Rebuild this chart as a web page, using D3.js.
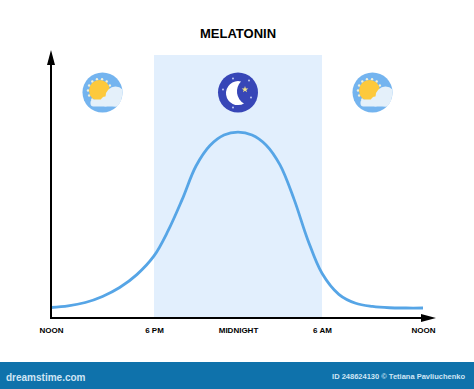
<!DOCTYPE html>
<html>
<head>
<meta charset="utf-8">
<script src="https://cdn.jsdelivr.net/npm/d3@7"></script>
<style>
html, body { margin: 0; padding: 0; background: #fff; }
text { font-family: "Liberation Sans", Arial, sans-serif; }
</style>
</head>
<body>
<div id="wrapper"></div>
<script>
const title = "MELATONIN";
const tickHours = [0, 6, 12, 18, 24];
const tickLabels = ["NOON", "6 PM", "MIDNIGHT", "6 AM", "NOON"];
// hours after noon, melatonin level (axis is 0-100)
const curveHours = [0, 1, 2, 3, 4, 5, 6, 7, 8, 9, 10, 11, 12, 13, 14, 15, 16, 17, 18, 19, 20, 21, 22, 23, 24];
const curveValues = [4, 4.6, 5.9, 8.2, 11.6, 16.5, 23.6, 33.1, 44.9, 57.8, 65.6, 69.6, 70.7, 69.6, 65.8, 58.2, 45.2, 29.5, 17, 9, 5.6, 4.4, 3.9, 3.8, 3.8];
const nightHours = [6, 18];
const skyIcons = [
    { hour: 3, type: "sun" },
    { hour: 12, type: "moon" },
    { hour: 21, type: "sun" }
];

const width = 474;
const height = 389;

const svg = d3.select("#wrapper").append("svg")
    .attr("width", width)
    .attr("height", height)
    .style("display", "block");

// the four time blocks are not the same width in the original
const xScale = d3.scaleLinear()
    .domain(tickHours)
    .range([51, 154, 238, 322, 423]);
const yScale = d3.scaleLinear()
    .domain([0, 100])
    .range([318, 55]);

svg.append("rect")
    .attr("x", xScale(nightHours[0]))
    .attr("y", yScale(100))
    .attr("width", xScale(nightHours[1]) - xScale(nightHours[0]))
    .attr("height", yScale(0) - yScale(100))
    .attr("fill", "#e2effd");

svg.append("text")
    .attr("x", 238)
    .attr("y", 38)
    .attr("text-anchor", "middle")
    .attr("font-size", 13)
    .attr("font-weight", "bold")
    .attr("fill", "#000")
    .text(title);

const line = d3.line()
    .x((d, i) => xScale(curveHours[i]))
    .y(d => yScale(d))
    .curve(d3.curveCatmullRom.alpha(0.5));

svg.append("path")
    .attr("d", line(curveValues))
    .attr("fill", "none")
    .attr("stroke", "#56a5e6")
    .attr("stroke-width", 2.8);

// axes
const xAxisGen = d3.axisBottom(xScale)
    .tickValues(tickHours)
    .tickSize(0)
    .tickPadding(9)
    .tickFormat((d, i) => tickLabels[i]);
const xAxis = svg.append("g")
    .attr("transform", "translate(0,318)")
    .call(xAxisGen);
xAxis.select(".domain").remove();
xAxis.selectAll("text")
    .attr("font-size", 8)
    .attr("font-weight", "bold")
    .attr("font-family", '"Liberation Sans", Arial, sans-serif')
    .attr("fill", "#000");

svg.append("line")
    .attr("x1", 50).attr("x2", 425)
    .attr("y1", 318).attr("y2", 318)
    .attr("stroke", "#000")
    .attr("stroke-width", 2);
svg.append("line")
    .attr("x1", 51).attr("x2", 51)
    .attr("y1", 319).attr("y2", 62)
    .attr("stroke", "#000")
    .attr("stroke-width", 2);
svg.append("path")
    .attr("d", "M51,50L47,65L55,65Z")
    .attr("fill", "#000");
svg.append("path")
    .attr("d", "M436,318L421,314L421,322Z")
    .attr("fill", "#000");

// icons
function drawSun(g, id) {
    g.append("circle").attr("r", 20).attr("fill", "#74b4ef");
    const rays = d3.range(14).map(i => i * Math.PI / 7);
    g.selectAll("circle.ray")
        .data(rays)
        .enter()
        .append("circle")
        .attr("class", "ray")
        .attr("cx", d => -3 + 11.5 * Math.cos(d))
        .attr("cy", d => -2 + 11.5 * Math.sin(d))
        .attr("r", 1.2)
        .attr("fill", "#f3f0d8");
    g.append("circle").attr("cx", -3).attr("cy", -2).attr("r", 10.5).attr("fill", "#fdc93c");
    g.append("clipPath").attr("id", id)
        .append("circle").attr("r", 20);
    const cloud = g.append("g")
        .attr("clip-path", `url(#${id})`)
        .attr("fill", "#e4f0fa");
    cloud.append("circle").attr("cx", 13).attr("cy", 4).attr("r", 10);
    cloud.append("circle").attr("cx", 3).attr("cy", 9).attr("r", 5);
    cloud.append("rect").attr("x", -12).attr("y", 7).attr("width", 34).attr("height", 7).attr("rx", 3);
}

function drawMoon(g) {
    g.append("circle").attr("r", 20).attr("fill", "#3746b7");
    g.append("path")
        .attr("d", "M3,-11A12,12 0 1 0 6,11A14,14 0 0 1 3,-11Z")
        .attr("fill", "#fff");
    const star = d3.symbol().type(d3.symbolStar);
    g.append("path").attr("d", star.size(14)()).attr("transform", "translate(7,-3)").attr("fill", "#f5e58a");
    const dots = [[-5, -14], [-15, -3], [-5, 15], [13, 5], [11, -12]];
    g.selectAll("circle.dot")
        .data(dots)
        .enter()
        .append("circle")
        .attr("class", "dot")
        .attr("cx", d => d[0])
        .attr("cy", d => d[1])
        .attr("r", 0.9)
        .attr("fill", "#cdd5f5");
}

skyIcons.forEach((icon, i) => {
    const g = svg.append("g")
        .attr("transform", `translate(${xScale(icon.hour)},92.5)`);
    if (icon.type == "moon") drawMoon(g);
    else drawSun(g, "cloudClip" + i);
});

// stock site footer
svg.append("rect")
    .attr("x", 0)
    .attr("y", 362)
    .attr("width", width)
    .attr("height", 27)
    .attr("fill", "#0f72ab");
svg.append("text")
    .attr("x", 6)
    .attr("y", 381)
    .attr("font-size", 10)
    .attr("font-weight", "bold")
    .attr("fill", "#cfe6f5")
    .text("dreamstime.com");
svg.append("text")
    .attr("x", 465)
    .attr("y", 378.5)
    .attr("text-anchor", "end")
    .attr("font-size", 7.5)
    .attr("font-weight", "bold")
    .attr("fill", "#cfe6f5")
    .text("ID 248624130 © Tetiana Pavliuchenko");
</script>
</body>
</html>
